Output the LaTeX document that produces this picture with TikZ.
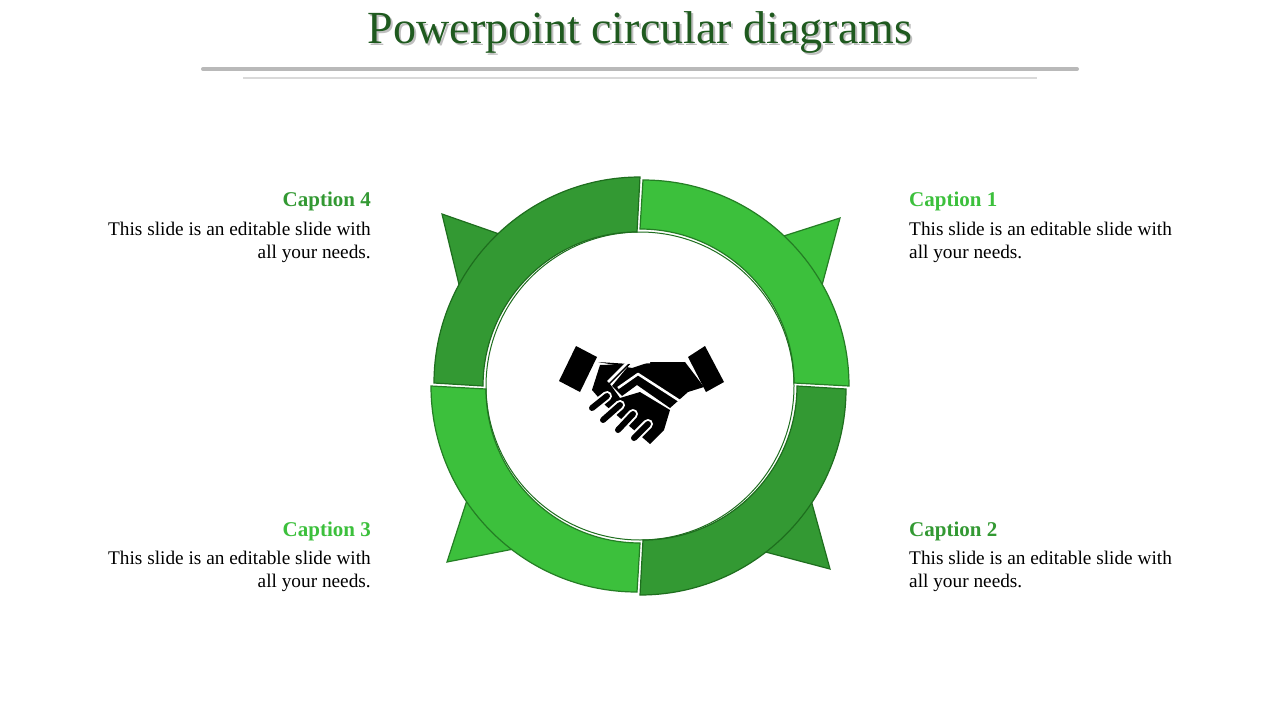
\documentclass[tikz,border=0pt]{standalone}
\usepackage{fontspec}
\setmainfont{Liberation Serif}
\begin{document}
\begin{tikzpicture}[x=1pt,y=-1pt,
  dk/.style={fill=gD,draw=gE,line width=1.2pt},
  lt/.style={fill=gL,draw=gE!80!gL,line width=1.2pt},
  body/.style={font=\fontsize{19.3}{22.5}\selectfont,text=black,inner sep=0},
  captext/.style={font=\fontsize{21}{24}\selectfont\bfseries,inner sep=0}]
\definecolor{gD}{HTML}{339933}
\definecolor{gL}{HTML}{3CC03C}
\definecolor{gE}{HTML}{1E6E1E}
\definecolor{tG}{HTML}{1F5A1F}
\useasboundingbox (0,0) rectangle (1280,720);
\fill[white] (0,0) rectangle (1280,720);
% title
\node[text=gray!50,font=\fontsize{46}{50}\selectfont] at (642,35) {Powerpoint circular diagrams};
\node[text=tG,font=\fontsize{46}{50}\selectfont] (title) at (640,33) {Powerpoint circular diagrams};
\draw[line width=4pt,gray!55,line cap=round] (203,69) -- (1077,69);
\draw[line width=2pt,gray!30] (243,78) -- (1037,78);
% triangles
\filldraw[dk] (442,214) -- (545,250) -- (470,330) -- cycle;
\filldraw[lt] (840,218) -- (740,250) -- (810,330) -- cycle;
\filldraw[dk] (830,569) -- (800,460) -- (720,540) -- cycle;
\filldraw[lt] (447,562) -- (480,460) -- (560,540) -- cycle;
% ring segments
\coordinate (c) at (640,386);
\filldraw[dk] (434,383) arc[start angle=180,end angle=270,radius=206] -- (637,232) arc[start angle=270,end angle=180,radius=154] -- cycle;
\filldraw[lt] (643,180) arc[start angle=270,end angle=360,radius=206] -- (794,383) arc[start angle=360,end angle=270,radius=154] -- cycle;
\filldraw[dk] (846,389) arc[start angle=0,end angle=90,radius=206] -- (643,540) arc[start angle=90,end angle=0,radius=154] -- cycle;
\filldraw[lt] (637,592) arc[start angle=90,end angle=180,radius=206] -- (486,389) arc[start angle=180,end angle=90,radius=154] -- cycle;
\fill[white] (c) circle[radius=152];
\draw[gE,line width=1pt] (c) circle[radius=154];
% handshake
\fill[black] (559,381) -- (576,346) -- (597,357) -- (580,392) -- cycle;
\fill[black] (688,357) -- (705,346) -- (724,382) -- (706,392) -- cycle;
\fill[black] (598,362) -- (630,364) -- (612,386) -- (622,396) -- (637,385) -- (670,408) -- (688,392) -- (704,387) -- (685,362) -- (650,362) -- (632,368) -- (598,362);
\fill[black] (600,365) -- (630,364) -- (610,384) -- (620,398) -- (640,392) -- (670,410) -- (664,430) -- (650,444) -- (605,405) -- (592,390) -- cycle;
\draw[white,line width=2.5pt,line join=round] (608,382) -- (628,362) -- (650,362);
\draw[white,line width=2.5pt,line join=round] (618,388) -- (638,374) -- (686,405);
\foreach \a/\b in {{(592,408)}/{(607,396)},{(603,420)}/{(620,405)},{(618,430)}/{(633,414)},{(634,438)}/{(648,424)}}
  \draw[white,line width=10pt,line cap=round] \a -- \b;
\foreach \a/\b in {{(592,408)}/{(607,396)},{(603,420)}/{(620,405)},{(618,430)}/{(633,414)},{(634,438)}/{(648,424)}}
  \draw[black,line width=6pt,line cap=round] \a -- \b;
% captions
\node[captext,text=gL,anchor=base west] (c1) at (909,206) {Caption 1};
\node[body,anchor=north west,align=left] (t1) at (909,222) {This slide is an editable slide with\\all your needs.};
\node[captext,text=gD,anchor=base west] (c2) at (909,536) {Caption 2};
\node[body,anchor=north west,align=left] (t2) at (909,551) {This slide is an editable slide with\\all your needs.};
\node[captext,text=gL,anchor=base east] (c3) at (371,536) {Caption 3};
\node[body,anchor=north east,align=right] (t3) at (371,551) {This slide is an editable slide with\\all your needs.};
\node[captext,text=gD,anchor=base east] (c4) at (371,206) {Caption 4};
\node[body,anchor=north east,align=right] (t4) at (371,222) {This slide is an editable slide with\\all your needs.};
\end{tikzpicture}
\end{document}
